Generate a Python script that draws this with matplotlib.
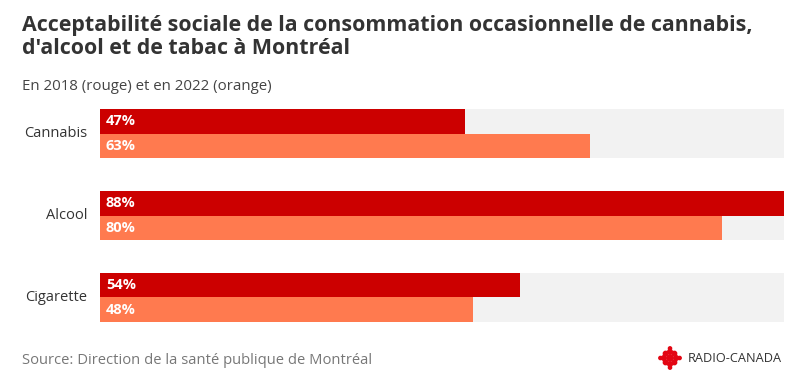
import numpy as np
import matplotlib.pyplot as plt
from matplotlib.patches import Circle

categories = ["Cannabis", "Alcool", "Cigarette"]
vals_2018 = [47, 88, 54]
vals_2022 = [63, 80, 48]
scale_max = 88

plt.rcParams['font.family'] = ['Open Sans', 'DejaVu Sans']

fig = plt.figure(figsize=(8.07, 3.84), dpi=100)
W, H = 807, 384
ax = fig.add_axes([100 / W, 62 / H, 684 / W, 213 / H])

y = np.arange(len(categories))
h = 0.3
ax.barh(y, [scale_max] * len(y), height=2 * h, color="#f2f2f2", align="center")
ax.barh(y - h / 2, vals_2018, height=h, color="#cc0000")
ax.barh(y + h / 2, vals_2022, height=h, color="#ff7a4f")

for i in range(len(categories)):
    ax.text(0.75, y[i] - h / 2, f"{vals_2018[i]}%", color="white", fontsize=10.5,
            fontweight="bold", va="center", ha="left")
    ax.text(0.75, y[i] + h / 2, f"{vals_2022[i]}%", color="white", fontsize=10.5,
            fontweight="bold", va="center", ha="left")
    ax.text(-1.6, y[i], categories[i], color="#333333", fontsize=10.5,
            va="center", ha="right")

ax.set_xlim(0, scale_max)
ax.set_ylim(2.3, -0.3)
ax.axis("off")

fig.text(22 / W, 1 - 25 / H, "Acceptabilité sociale de la consommation occasionnelle de cannabis,",
         fontsize=15.4, fontweight="bold", color="#333333", va="center")
fig.text(22 / W, 1 - 48 / H, "d'alcool et de tabac à Montréal",
         fontsize=15.4, fontweight="bold", color="#333333", va="center")
fig.text(22 / W, 1 - 87 / H, "En 2018 (rouge) et en 2022 (orange)",
         fontsize=10.8, color="#444444", va="center")
fig.text(22 / W, 1 - 360 / H, "Source: Direction de la santé publique de Montréal",
         fontsize=10.6, color="#777777", va="center")

# logo
lax = fig.add_axes([658 / W, 1 - 370 / H, 24 / W, 24 / H])
lax.set_xlim(-12, 12)
lax.set_ylim(-12, 12)
lax.set_aspect("equal")
lax.axis("off")
lax.add_patch(Circle((0, 0), 3.2, color="#e30613"))
for a in np.linspace(0, 2 * np.pi, 8, endpoint=False):
    lax.add_patch(Circle((6.2 * np.cos(a), 6.2 * np.sin(a)), 2.3, color="#e30613"))
for a in np.linspace(0, 2 * np.pi, 4, endpoint=False):
    lax.add_patch(Circle((9.6 * np.cos(a), 9.6 * np.sin(a)), 1.6, color="#e30613"))
fig.text(688 / W, 1 - 358 / H, "RADIO-CANADA", fontsize=9.2, color="#333333", va="center")

fig.savefig("out.png", dpi=100)
